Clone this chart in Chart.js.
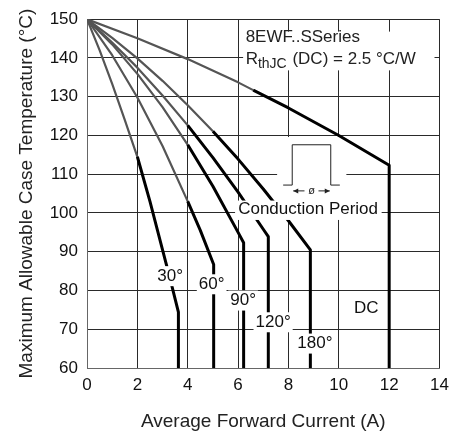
<!DOCTYPE html>
<html>
<head>
<meta charset="utf-8">
<script src="https://cdn.jsdelivr.net/npm/chart.js@4.4.1/dist/chart.umd.min.js"></script>
<style>
  html, body { margin: 0; padding: 0; background: #fff; }
  #wrap { width: 456px; height: 436px; }
</style>
</head>
<body>
<div id="wrap"><canvas id="c" width="456" height="436"></canvas></div>
<script>
// ---- data ----
const seriesNames = ['30°', '60°', '90°', '120°', '180°', 'DC'];

const current30 = [0, 0.5, 1, 1.5, 2, 2.5, 3, 3.3, 3.63, 3.63];
const temp30    = [150, 142, 133.3, 124, 114.5, 103, 90.5, 83, 74.4, 60];

const current60 = [0, 1, 2, 3, 4, 4.5, 5.03, 5.03];
const temp60    = [150, 140.7, 129.8, 117.3, 103, 95.5, 86.7, 60];

const current90 = [0, 1, 2, 3, 4, 5, 6, 6.22, 6.22];
const temp90    = [150, 143.5, 135.9, 127.3, 117.6, 106.9, 95, 92.3, 60];

const current120 = [0, 1, 2, 3, 4, 5, 6, 7, 7.2, 7.2];
const temp120    = [150, 144, 137.5, 130.3, 122.6, 114.3, 105.4, 95.8, 93.9, 60];

const current180 = [0, 1, 2, 3, 4, 5, 6, 7, 8, 8.87, 8.87];
const temp180    = [150, 145.2, 139.9, 134.1, 127.8, 121.1, 113.9, 106.2, 98, 90.5, 60];

const currentDC = [0, 2, 4, 6, 6.6, 8, 10, 12, 12];
const tempDC    = [150, 145.1, 139.7, 133.7, 131.7, 127.1, 120, 112.3, 60];

const xTicks = [0, 2, 4, 6, 8, 10, 12, 14];
const yTicks = [60, 70, 80, 90, 100, 110, 120, 130, 140, 150];

// label anchor points in data units (x = current, y = temperature)
const labelX = [3.30, 4.95, 6.20, 7.39, 9.05, 11.09];
const labelY = [83.7, 81.6, 77.4, 71.8, 66.3, 75.3];

const seriesTitle = '8EWF..SSeries';
const rthText = ['R', 'thJC', ' (DC) = 2.5 °C/W'];
const conductionText = 'Conduction Period';

// ---- styling (separate from data) ----
const greyAbove = [116, 112, 120, 126, 126, 132];
const FONT = '"Liberation Sans", Arial, sans-serif';

const allX = [current30, current60, current90, current120, current180, currentDC];
const allY = [temp30, temp60, temp90, temp120, temp180, tempDC];

const datasets = allX.map((xs, i) => ({
  label: seriesNames[i],
  data: xs.map((x, k) => ({ x: x, y: allY[i][k] })),
  borderColor: '#000',
  borderWidth: 2.6,
  pointRadius: 0,
  fill: false,
  tension: 0,
  borderJoinStyle: 'round',
  segment: {
    borderColor: c => (c.p0.parsed.y > greyAbove[i] ? '#555' : '#000'),
    borderWidth: c => (c.p0.parsed.y > greyAbove[i] ? 2.2 : 3)
  }
}));

const annot = {
  id: 'annot',
  beforeDatasetsDraw(chart) {
    // white boxes that only hide grid lines
    const ctx = chart.ctx;
    const xs = chart.scales.x, ys = chart.scales.y;
    const px = v => xs.getPixelForValue(v);
    const py = v => ys.getPixelForValue(v);
    ctx.save();
    ctx.fillStyle = '#fff';
    ctx.fillRect(px(6.2), py(146.8), px(13.8) - px(6.2), py(136.8) - py(146.8));
    ctx.fillRect(px(7.55), py(119.6), px(10.3) - px(7.55), py(101) - py(119.6));
    ctx.restore();
  },
  afterDatasetsDraw(chart) {
    const ctx = chart.ctx;
    const xs = chart.scales.x, ys = chart.scales.y;
    const px = v => xs.getPixelForValue(v);
    const py = v => ys.getPixelForValue(v);
    ctx.save();
    ctx.fillStyle = '#fff';
    ctx.fillRect(px(5.88), py(103.2), px(11.7) - px(5.88), py(98.2) - py(103.2));

    // series name and thermal resistance
    ctx.fillStyle = '#222';
    ctx.textAlign = 'left';
    ctx.textBaseline = 'alphabetic';
    ctx.font = '17px ' + FONT;
    const tx = px(6.3);
    ctx.fillText(seriesTitle, tx, py(144.1));
    const by = py(138.5);
    ctx.fillText(rthText[0], tx, by);
    let w = ctx.measureText(rthText[0]).width;
    ctx.font = '14px ' + FONT;
    ctx.fillText(rthText[1], tx + w, by + 4.5);
    w += ctx.measureText(rthText[1]).width + 1;
    ctx.font = '17px ' + FONT;
    ctx.fillText(rthText[2], tx + w, by);

    // conduction pulse sketch
    ctx.strokeStyle = '#222';
    ctx.lineWidth = 1;
    const l = px(8.15), r = px(9.68), t = py(117.6), b = py(107.2);
    ctx.beginPath();
    ctx.moveTo(px(7.79), b); ctx.lineTo(l, b); ctx.lineTo(l, t); ctx.lineTo(r, t); ctx.lineTo(r, b); ctx.lineTo(px(10.04), b);
    ctx.stroke();
    const ay = py(105.7);
    const mid = (l + r) / 2;
    ctx.beginPath();
    ctx.moveTo(l + 1, ay); ctx.lineTo(mid - 7, ay);
    ctx.moveTo(mid + 7, ay); ctx.lineTo(r - 1, ay);
    ctx.stroke();
    ctx.fillStyle = '#222';
    ctx.beginPath();
    ctx.moveTo(l + 1, ay); ctx.lineTo(l + 6, ay - 2.5); ctx.lineTo(l + 6, ay + 2.5); ctx.closePath();
    ctx.moveTo(r - 1, ay); ctx.lineTo(r - 6, ay - 2.5); ctx.lineTo(r - 6, ay + 2.5); ctx.closePath();
    ctx.fill();
    ctx.font = '11px ' + FONT;
    ctx.textAlign = 'center';
    ctx.textBaseline = 'middle';
    ctx.fillText('ø', mid, ay);

    // conduction period label
    ctx.font = '17px ' + FONT;
    ctx.fillStyle = '#111';
    ctx.fillText(conductionText, px(8.78), py(100.9));

    // series labels with white background
    seriesNames.forEach((s, i) => {
      const cx = px(labelX[i]), cy = py(labelY[i]);
      ctx.font = '17px ' + FONT;
      const tw = ctx.measureText(s).width;
      if (i < 5) {
        ctx.fillStyle = '#fff';
        ctx.fillRect(cx - tw / 2 - 2, cy - 10, tw + 4, 20);
      }
      ctx.fillStyle = '#111';
      ctx.fillText(s, cx, cy);
    });
    ctx.restore();
  }
};

new Chart(document.getElementById('c'), {
  type: 'line',
  data: { datasets },
  plugins: [annot],
  options: {
    responsive: false,
    devicePixelRatio: 1,
    animation: false,
    parsing: true,
    layout: { padding: { left: 0, right: 16, top: 14, bottom: 0 } },
    plugins: { legend: { display: false }, tooltip: { enabled: false } },
    scales: {
      x: {
        type: 'linear',
        min: 0, max: 14,
        afterBuildTicks: s => { s.ticks = xTicks.map(v => ({ value: v })); },
        afterFit: s => { s.height = 68; },
        ticks: { font: { size: 17, family: FONT }, color: '#111', padding: 7 },
        grid: { color: '#2a2a2a', lineWidth: 1, drawTicks: false },
        border: { color: '#666', width: 1 },
        title: { display: true, text: 'Average Forward Current (A)', font: { size: 19, family: FONT }, color: '#222', padding: { top: 0, bottom: 3 } }
      },
      y: {
        type: 'linear',
        min: 60, max: 150,
        afterBuildTicks: s => { s.ticks = yTicks.map(v => ({ value: v })); },
        afterFit: s => { s.width = 87; },
        ticks: { font: { size: 17, family: FONT }, color: '#111', padding: 9 },
        grid: { color: '#2a2a2a', lineWidth: 1, drawTicks: false },
        border: { color: '#666', width: 1 },
        title: { display: true, text: 'Maximum Allowable Case Temperature (°C)', font: { size: 19, family: FONT }, color: '#222', padding: { top: 15, bottom: 0 } }
      }
    }
  }
});
</script>
</body>
</html>
